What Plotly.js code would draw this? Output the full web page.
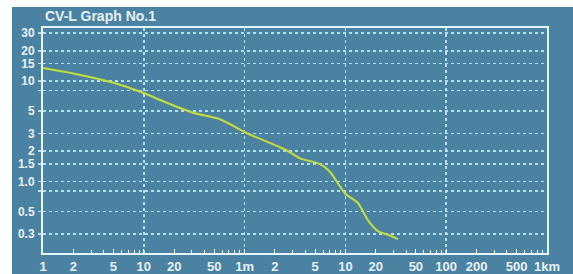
<!DOCTYPE html>
<html>
<head>
<meta charset="utf-8">
<script src="https://cdn.plot.ly/plotly-3.0.1.min.js"></script>
<style>
html,body{margin:0;padding:0;background:#ffffff;width:573px;height:274px;overflow:hidden;}
#chart{position:absolute;left:12px;top:7px;width:561px;height:267px;}
</style>
</head>
<body>
<div id="chart"></div>
<script>
// distance in cm, value
const distanceCm = [1, 2, 5, 10, 14.5, 30.8, 57, 106, 224, 282, 355, 560, 703, 991, 1334, 1676, 2106, 2760, 3316];
const values = [13.5, 11.9, 9.6, 7.6, 6.47, 4.83, 4.16, 3.02, 2.19, 1.95, 1.70, 1.49, 1.25, 0.76, 0.61, 0.41, 0.32, 0.29, 0.267];

const xTickVals = [1, 2, 5, 10, 20, 50, 100, 200, 500, 1000, 2000, 5000, 10000, 20000, 50000, 100000];
const xTickText = ["1", "2", "5", "10", "20", "50", "1m", "2", "5", "10", "20", "50", "100", "200", "500", "1km"];
const xGridVals = [10, 100, 1000, 10000];
const yTickVals = [30, 20, 15, 10, 8, 5, 3, 2, 1.5, 1, 0.8, 0.5, 0.3];
const yTickText = ["30", "20", "15", "10", "", "5", "3", "2", "1.5", "1.0", "", "0.5", "0.3"];

const bg = "rgb(76,130,161)";
const gridC = "rgba(190,232,248,0.9)";
const lineC = "#e4f6ff";
const textC = "#e6f2fa";
const family = "Liberation Sans Narrow, Liberation Sans, Arial Narrow, sans-serif";
const xfnt = {family: family, size: 13, color: textC, weight: 700};
const yfnt = {family: family, size: 12, color: textC, weight: 700};

const xr = [0, 5];
const yr = [Math.log10(0.194), Math.log10(33.7)];

const traces = [
  {x: distanceCm, y: values, type: "scatter", mode: "lines",
   line: {color: "#c4de3c", width: 2, shape: "spline", smoothing: 0.6}, hoverinfo: "skip"},
  {x: [1, 100000], y: [1, 1], xaxis: "x2", type: "scatter", mode: "lines",
   line: {color: "rgba(0,0,0,0)", width: 0}, hoverinfo: "skip", showlegend: false}
];

const layout = {
  width: 561, height: 267,
  paper_bgcolor: bg, plot_bgcolor: bg,
  margin: {l: 31, r: 26, t: 21, b: 21},
  showlegend: false,
  title: {text: "CV-L Graph No.1", xref: "container", yref: "container",
          x: 33/561, xanchor: "left", y: 1 - 9/267, yanchor: "middle",
          font: {family: family, size: 14, color: textC, weight: 700}},
  xaxis: {type: "log", range: xr, tickmode: "array", tickvals: xTickVals, ticktext: xTickText,
          showgrid: false, zeroline: false, showline: true, linecolor: lineC, linewidth: 2, mirror: true,
          ticks: "inside", ticklen: 4, tickcolor: lineC, tickwidth: 1,
          minor: {dtick: "D1", ticks: "inside", ticklen: 3, tickcolor: lineC, tickwidth: 1, showgrid: false},
          tickfont: xfnt, ticklabelstandoff: 0},
  xaxis2: {type: "log", range: xr, overlaying: "x", tickmode: "array", tickvals: xGridVals,
           showticklabels: false, ticks: "", showgrid: true, gridcolor: gridC, gridwidth: 1.5,
           griddash: "3px,3px", zeroline: false, showline: false},
  yaxis: {type: "log", range: yr, tickmode: "array", tickvals: yTickVals, ticktext: yTickText,
          showgrid: true, gridcolor: gridC, gridwidth: 1.5, griddash: "3px,3px",
          zeroline: false, showline: true, linecolor: lineC, linewidth: 2, mirror: true,
          ticks: "outside", ticklen: 3, tickcolor: gridC, tickwidth: 1.5,
          tickfont: yfnt, ticklabelstandoff: 1}
};

Plotly.newPlot("chart", traces, layout, {displayModeBar: false, staticPlot: true});
</script>
</body>
</html>
